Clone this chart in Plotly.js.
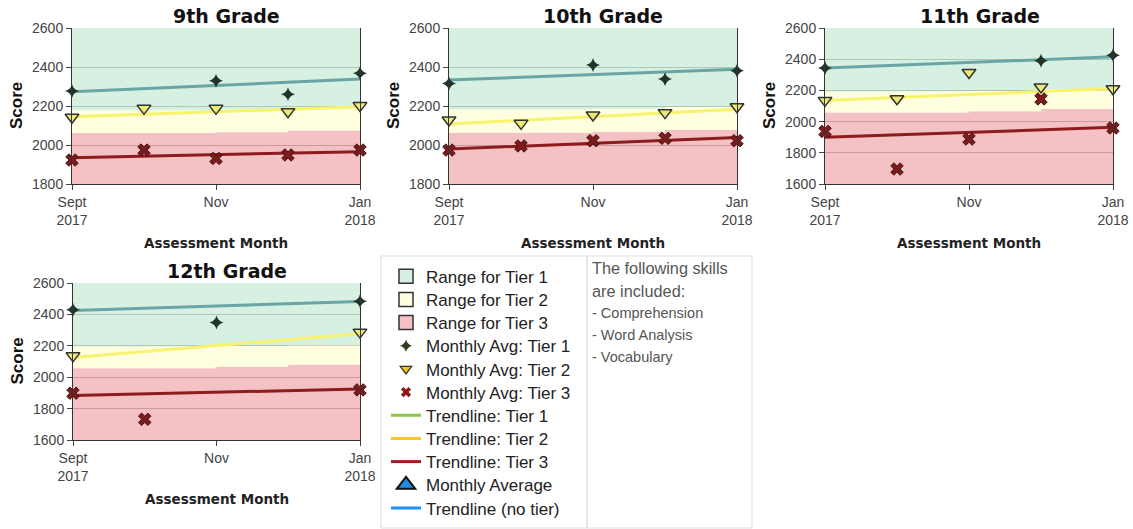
<!DOCTYPE html>
<html><head><meta charset="utf-8">
<script src="https://cdn.plot.ly/plotly-3.0.1.min.js"></script>
<style>html,body{margin:0;padding:0;background:#fff}#chart{width:1133px;height:529px}</style>
</head><body><div id="chart"></div>
<script>
const months = ['Sept 2017','Oct 2017','Nov 2017','Dec 2017','Jan 2018'];
const tickMonths = ['Sept 2017','Nov 2017','Jan 2018'];
const tickLabels = ['Sept<br>2017','Nov','Jan<br>2018'];
const grades = ['9th Grade','10th Grade','11th Grade','12th Grade'];
const yMin = [1800,1800,1600,1600];
const yMax = [2600,2600,2600,2600];

// Monthly averages (null = no value for that month)
const tier1Avg = [
  [2277, null, 2330, 2260, 2368],
  [2316, null, 2410, 2338, 2381],
  [2344, null, null, 2390, 2425],
  [2430, null, 2349, null, 2483]
];
const tier2Avg = [
  [2142, 2188, 2188, 2171, 2202],
  [2128, 2111, 2154, 2166, 2196],
  [2136, 2147, 2315, 2222, 2211],
  [2136, null, null, null, 2287]
];
const tier3Avg = [
  [1923, 1974, 1931, 1949, 1974],
  [1974, 1995, 2022, 2034, 2022],
  [1937, 1696, 1888, 2145, 1959],
  [1898, 1732, null, null, 1919]
];
// Trendlines: [Sept 2017 value, Jan 2018 value]
const tier1Trend = [[2273,2338],[2333,2388],[2343,2415],[2425,2482]];
const tier2Trend = [[2145,2196],[2108,2183],[2135,2212],[2125,2277]];
const tier3Trend = [[1935,1966],[1979,2039],[1899,1963],[1883,1925]];
// Tier range boundaries per month
const tier3Top = [
  [2062,2062,2066,2075,2075],
  [2063,2063,2068,2077,2077],
  [2059,2059,2066,2080,2080],
  [2057,2057,2066,2079,2079]
];
const tier1Bottom = [
  [2178,2178,2182,2192,2192],
  [2182,2182,2186,2195,2195],
  [2193,2193,2198,2208,2208],
  [2195,2195,2198,2205,2205]
];

const legendNames = ['Range for Tier 1','Range for Tier 2','Range for Tier 3',
  'Monthly Avg: Tier 1','Monthly Avg: Tier 2','Monthly Avg: Tier 3',
  'Trendline: Tier 1','Trendline: Tier 2','Trendline: Tier 3',
  'Monthly Average','Trendline (no tier)'];
const skillsText = ['The following skills','are included:'];
const skillsList = ['- Comprehension','- Word Analysis','- Vocabulary'];

const W = 1133, H = 529;
const px = v => v / W, py = v => 1 - v / H;
// plot areas in pixels [left, right, top, bottom]
const boxes = [[72,360,28,184],[449,737,28,184],[825,1113,28,184],[73,360,283,440]];

const C = {
  g: 'rgba(196,234,214,0.7)', y: 'rgba(255,255,210,0.7)', p: 'rgba(239,168,171,0.7)',
  gS: '#d6efe2', yS: '#fffde0', pS: '#f4c2c4'
};

const layout = {
  width: W, height: H, margin:{l:0,r:0,t:0,b:0},
  paper_bgcolor:'#fff', plot_bgcolor:'rgba(0,0,0,0)',
  showlegend: true, annotations: [], shapes: []
};

const data = [];
// legend-only entries, one small legend per row so rows sit at the reference spacing
const nul = {x:[null], y:[null], xaxis:'x', yaxis:'y', hoverinfo:'skip'};
const legendStyles = [
  {mode:'markers', marker:{symbol:'square', size:14, color:C.gS, line:{color:'#333', width:1.5}}},
  {mode:'markers', marker:{symbol:'square', size:14, color:C.yS, line:{color:'#333', width:1.5}}},
  {mode:'markers', marker:{symbol:'square', size:14, color:C.pS, line:{color:'#333', width:1.5}}},
  {mode:'markers', marker:{symbol:'star-diamond', size:9, color:'#2e3d1e', line:{width:0}}},
  {mode:'markers', marker:{symbol:'triangle-down', size:10, color:'#f2c21c', line:{color:'#333', width:1.2}}},
  {mode:'markers', marker:{symbol:'x', size:9, color:'#8b1a1a', line:{width:0}}},
  {mode:'lines', line:{color:'#8dc63f', width:3}},
  {mode:'lines', line:{color:'#ffc425', width:3}},
  {mode:'lines', line:{color:'#a01c20', width:3}},
  {mode:'markers', marker:{symbol:'triangle-up', size:16, color:'#1e8fe6', line:{color:'#111', width:2}}},
  {mode:'lines', line:{color:'#1e90ff', width:3}}
];
legendNames.forEach((name, i) => {
  const lid = i === 0 ? 'legend' : 'legend' + (i + 1);
  data.push(Object.assign({}, nul, {name, type:'scatter', legend: lid}, legendStyles[i]));
  layout[lid] = {x: px(386), y: py(276.7 + i * 23.17), xanchor:'left', yanchor:'middle',
    font:{family:'Liberation Sans, Arial, sans-serif', size:17, color:'#222'},
    bgcolor:'rgba(0,0,0,0)', borderwidth:0, itemclick:false, itemdoubleclick:false};
});

grades.forEach((gName, g) => {
  const s = g === 0 ? '' : String(g + 1);
  const xa = 'x' + s, ya = 'y' + s;
  const top = months.map(() => yMax[g]);
  const base = {xaxis: xa, yaxis: ya, showlegend:false, hoverinfo:'skip', type:'scatter'};
  data.push(Object.assign({}, base, {x: months, y: tier3Top[g], mode:'lines', line:{width:0, shape:'hv'}, fill:'tozeroy', fillcolor:C.p}));
  data.push(Object.assign({}, base, {x: months, y: tier1Bottom[g], mode:'lines', line:{width:0, shape:'hv'}, fill:'tonexty', fillcolor:C.y}));
  data.push(Object.assign({}, base, {x: months, y: top, mode:'lines', line:{width:0, shape:'hv'}, fill:'tonexty', fillcolor:C.g}));
  const ends = [months[0], months[months.length - 1]];
  data.push(Object.assign({}, base, {x: ends, y: tier1Trend[g], mode:'lines', line:{color:'#6aa5a5', width:3}}));
  data.push(Object.assign({}, base, {x: ends, y: tier2Trend[g], mode:'lines', line:{color:'#f7f36c', width:3}}));
  data.push(Object.assign({}, base, {x: ends, y: tier3Trend[g], mode:'lines', line:{color:'#8e1b1e', width:3}}));
  data.push(Object.assign({}, base, {x: months, y: tier1Avg[g], mode:'markers', cliponaxis:false,
    marker:{symbol:'star-diamond', size:10, color:'#22332a', line:{width:0}}}));
  data.push(Object.assign({}, base, {x: months, y: tier2Avg[g], mode:'markers', cliponaxis:false,
    marker:{symbol:'triangle-down', size:12, color:'#eeea7a', line:{color:'#333', width:1.5}}}));
  data.push(Object.assign({}, base, {x: months, y: tier3Avg[g], mode:'markers', cliponaxis:false,
    marker:{symbol:'x', size:11, color:'#7a1c1c', line:{color:'#4a1010', width:1}}}));

  const b = boxes[g];
  const tickFont = {family:'Liberation Sans, Arial, sans-serif', size:14, color:'#444'};
  layout['xaxis' + s] = {domain:[px(b[0]), px(b[1])], anchor: ya, type:'category',
    categoryorder:'array', categoryarray: months, range:[0, 4],
    tickmode:'array', tickvals: tickMonths, ticktext: tickLabels,
    showgrid:false, zeroline:false, showline:true, linecolor:'#333', linewidth:1,
    ticks:'outside', ticklen:5, tickcolor:'#444', tickfont: tickFont, fixedrange:true};
  layout['yaxis' + s] = {domain:[py(b[3]), py(b[2])], anchor: xa, range:[yMin[g], yMax[g]],
    dtick:200, tick0:0, showgrid:true, gridcolor:'#777', gridwidth:1, zeroline:false,
    showline:true, mirror:true, linecolor:'#333', linewidth:1,
    ticks:'outside', ticklen:5, tickcolor:'#444', tickfont: tickFont, fixedrange:true};

  const cx = (b[0] + b[1]) / 2;
  layout.annotations.push({xref:'paper', yref:'paper', x: px(cx + 10.5), y: py(b[2] - 12), text: gName,
    showarrow:false, xanchor:'center', yanchor:'middle',
    font:{family:'DejaVu Sans, sans-serif', size:19, color:'#111', weight:'bold'}});
  layout.annotations.push({xref:'paper', yref:'paper', x: px(cx), y: py(b[3] + 59), text: 'Assessment Month',
    showarrow:false, xanchor:'center', yanchor:'middle',
    font:{family:'DejaVu Sans, sans-serif', size:13.5, color:'#222', weight:'bold'}});
  layout.annotations.push({xref:'paper', yref:'paper', x: px(b[0] - 56), y: py((b[2] + b[3]) / 2), text: 'Score',
    showarrow:false, xanchor:'center', yanchor:'middle', textangle:-90,
    font:{family:'Liberation Sans, Arial, sans-serif', size:17, color:'#111', weight:'bold'}});
});

// Legend panel frames
layout.shapes.push({type:'rect', xref:'paper', yref:'paper', x0:px(381), x1:px(587), y0:py(256), y1:py(528), line:{color:'#ddd', width:1}});
layout.shapes.push({type:'rect', xref:'paper', yref:'paper', x0:px(587), x1:px(752), y0:py(256), y1:py(528), line:{color:'#ddd', width:1}});
skillsText.forEach((t, i) => layout.annotations.push({xref:'paper', yref:'paper', x: px(590), y: py(268 + i * 22.5),
  text: t, showarrow:false, xanchor:'left', yanchor:'middle', font:{family:'Liberation Sans, Arial, sans-serif', size:16.3, color:'#555'}}));
skillsList.forEach((t, i) => layout.annotations.push({xref:'paper', yref:'paper', x: px(590), y: py(312.5 + i * 22.3),
  text: t, showarrow:false, xanchor:'left', yanchor:'middle', font:{family:'Liberation Sans, Arial, sans-serif', size:14.5, color:'#555'}}));

Plotly.newPlot('chart', data, layout, {staticPlot:true, displayModeBar:false});
</script></body></html>
